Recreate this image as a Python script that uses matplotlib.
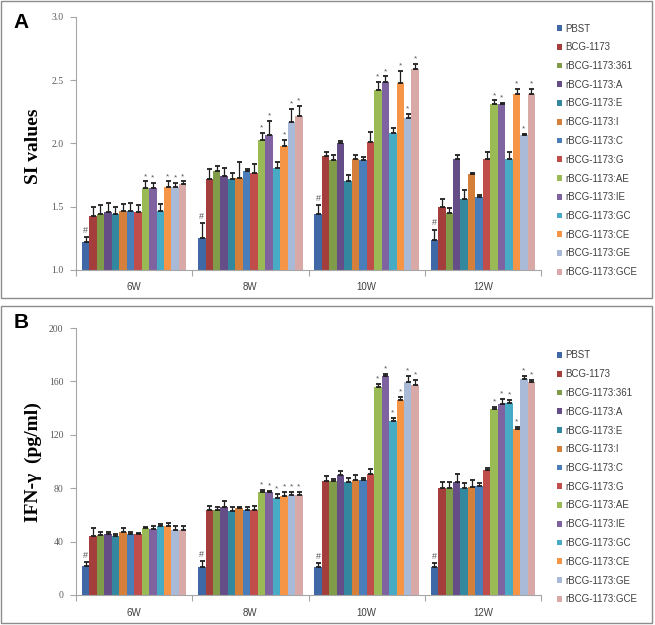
import matplotlib

matplotlib.use("Agg")
import matplotlib.pyplot as plt
import numpy as np
from matplotlib.patches import Rectangle

weeks = ["6W", "8W", "10W", "12W"]
groups = ["PBST", "BCG-1173", "rBCG-1173:361", "rBCG-1173:A", "rBCG-1173:E",
          "rBCG-1173:I", "rBCG-1173:C", "rBCG-1173:G", "rBCG-1173:AE",
          "rBCG-1173:IE", "rBCG-1173:GC", "rBCG-1173:CE", "rBCG-1173:GE",
          "rBCG-1173:GCE"]
colors = ["#3e68a6", "#a43e3c", "#809c48", "#654d87", "#33889f", "#d5803a",
          "#4a7ebb", "#c04d4a", "#9aba56", "#7f63a1", "#47abc6", "#f69546",
          "#a8bad8", "#d9a9a8"]

# SI values, rows = groups, cols = weeks
si_mean = [
    [1.22, 1.255, 1.44, 1.24],
    [1.43, 1.72, 1.90, 1.50],
    [1.44, 1.78, 1.87, 1.45],
    [1.46, 1.74, 2.005, 1.88],
    [1.44, 1.72, 1.70, 1.56],
    [1.47, 1.73, 1.88, 1.76],
    [1.47, 1.78, 1.87, 1.58],
    [1.46, 1.77, 2.01, 1.88],
    [1.65, 2.03, 2.42, 2.31],
    [1.645, 2.07, 2.49, 2.31],
    [1.47, 1.81, 2.08, 1.88],
    [1.66, 1.98, 2.48, 2.39],
    [1.66, 2.17, 2.20, 2.07],
    [1.68, 2.22, 2.59, 2.39],
]
si_sd = [
    [0.04, 0.115, 0.07, 0.08],
    [0.07, 0.08, 0.03, 0.06],
    [0.07, 0.04, 0.04, 0.04],
    [0.07, 0.07, 0.015, 0.03],
    [0.06, 0.05, 0.05, 0.07],
    [0.05, 0.12, 0.03, 0.01],
    [0.06, 0.02, 0.02, 0.01],
    [0.05, 0.07, 0.08, 0.05],
    [0.05, 0.05, 0.07, 0.03],
    [0.045, 0.11, 0.04, 0.01],
    [0.05, 0.04, 0.04, 0.05],
    [0.04, 0.05, 0.09, 0.04],
    [0.03, 0.10, 0.03, 0.005],
    [0.02, 0.08, 0.04, 0.04],
]
# IFN-gamma (pg/ml)
ifn_mean = [
    [21.75, 21, 21, 21],
    [44, 64, 85.5, 80.5],
    [45, 64, 85.5, 80.5],
    [46, 66, 90, 85],
    [44, 63, 85, 80],
    [47, 65, 86, 81],
    [46, 64, 86, 82],
    [46, 64, 91, 94],
    [50, 77, 156, 139],
    [49.5, 77, 164, 143],
    [52, 73, 130, 144],
    [52, 74, 146, 124.5],
    [49, 75, 159.5, 162],
    [49, 75, 157.5, 159.5],
]
ifn_sd = [
    [3.2, 4.5, 3, 3],
    [6, 3, 3.5, 4.5],
    [2, 2, 1.5, 4.5],
    [1, 4.5, 3, 6],
    [2, 3, 2.5, 4],
    [3, 1, 4, 5],
    [1, 2, 1.5, 2],
    [0.5, 3, 3.5, 1],
    [1, 2, 2, 2],
    [2.5, 1, 1.5, 4],
    [1, 2.5, 2.5, 2],
    [2, 3.5, 2, 1.5],
    [3, 2, 4.5, 2],
    [3, 2, 3.5, 1.5],
]
# significance marks: series indices with "*" per week; "#" on PBST every week
si_stars = [[8, 9, 11, 12, 13]] * 4
ifn_stars = [[], [8, 9, 10, 11, 12, 13], [8, 9, 10, 11, 12, 13], [8, 9, 10, 11, 12, 13]]
hash_series = 0

W, H = 655, 625
fig = plt.figure(figsize=(W / 100, H / 100), dpi=100)
fig.patch.set_facecolor("white")

SANS = ["Liberation Sans", "DejaVu Sans"]
SERIF = ["Liberation Serif", "DejaVu Serif"]


def fx(px):
    return px / W


def fy(py):
    return 1 - py / H


def draw_panel(ax, means, sds, stars, ylim, yticks, fmt):
    means = np.array(means)
    sds = np.array(sds)
    n = len(groups)
    bw = 0.9 / n
    x = np.arange(len(weeks))
    span = ylim[1] - ylim[0]
    for i in range(n):
        xi = x - 0.45 + bw * (i + 0.5)
        ax.bar(xi, means[i], bw, color=colors[i], label=groups[i], zorder=2)
        ax.errorbar(xi, means[i], yerr=[np.zeros(len(weeks)), sds[i]], fmt="none",
                    ecolor="#1e1e1e", elinewidth=0.9, capsize=1.8, capthick=1.3, zorder=3)
        for w in range(len(weeks)):
            top = means[i][w] + sds[i][w]
            if i == hash_series:
                ax.text(xi[w], top + span * 0.008, "#", ha="center", va="bottom",
                        fontsize=6.5, color="#555555", family=SANS)
            if i in stars[w]:
                ax.text(xi[w], top + span * 0.006, "*", ha="center", va="bottom",
                        fontsize=6, color="#555555", family=SANS)
    ax.set_xlim(-0.5, len(weeks) - 0.5)
    ax.set_ylim(*ylim)
    ax.set_yticks(yticks)
    ax.set_yticklabels([fmt.format(v) for v in yticks], family=SERIF,
                       fontsize=7, color="#595959")
    ax.set_xticks(np.arange(len(weeks) + 1) - 0.5)
    ax.set_xticklabels([])
    ax.set_xticks(x, minor=True)
    ax.set_xticklabels(weeks, minor=True, family=SANS, fontsize=7, color="#404040")
    ax.tick_params(axis="x", which="minor", length=0, pad=9)
    ax.tick_params(axis="x", which="major", length=4, color="#a6a6a6")
    ax.tick_params(axis="y", length=4, color="#a6a6a6", pad=5)
    for s in ["top", "right"]:
        ax.spines[s].set_visible(False)
    for s in ["left", "bottom"]:
        ax.spines[s].set_color("#a6a6a6")
        ax.spines[s].set_linewidth(0.8)


ax_a = fig.add_axes([fx(76), fy(270), fx(541 - 76), (270 - 17) / H])
draw_panel(ax_a, si_mean, si_sd, si_stars, (1.0, 3.0),
           [1.0, 1.5, 2.0, 2.5, 3.0], "{:.1f}")
ax_b = fig.add_axes([fx(76), fy(595), fx(541 - 76), (595 - 328) / H])
draw_panel(ax_b, ifn_mean, ifn_sd, ifn_stars, (0, 200),
           [0, 40, 80, 120, 160, 200], "{:g}")

for ax, top in [(ax_a, 23.5), (ax_b, 350.5)]:
    leg = ax.legend(loc="upper left", bbox_to_anchor=(fx(557), fy(top)),
                    bbox_transform=fig.transFigure, frameon=False, borderpad=0,
                    borderaxespad=0, handlelength=0.55, handleheight=0.55,
                    handletextpad=0.35, labelspacing=0.9,
                    prop={"family": SANS, "size": 7})
    for t in leg.get_texts():
        t.set_color("#404040")

# panel frames
for y0, y1 in [(1, 298), (306, 623)]:
    fig.add_artist(Rectangle((fx(1), fy(y1)), fx(651), (y1 - y0) / H,
                             transform=fig.transFigure, fill=False,
                             edgecolor="#8c8c8c", linewidth=1))

fig.text(fx(21), fy(22), "A", fontsize=15, fontweight="bold", family=SANS,
         ha="center", va="center")
fig.text(fx(21), fy(322), "B", fontsize=15, fontweight="bold", family=SANS,
         ha="center", va="center")
fig.text(fx(33), fy(146), "SI values", rotation=90, fontsize=14,
         fontweight="bold", family=SERIF, ha="center", va="center")
fig.text(fx(33), fy(462), "IFN-γ  (pg/ml)", rotation=90, fontsize=14,
         fontweight="bold", family=SERIF, ha="center", va="center")

fig.savefig("out.png", dpi=100)
